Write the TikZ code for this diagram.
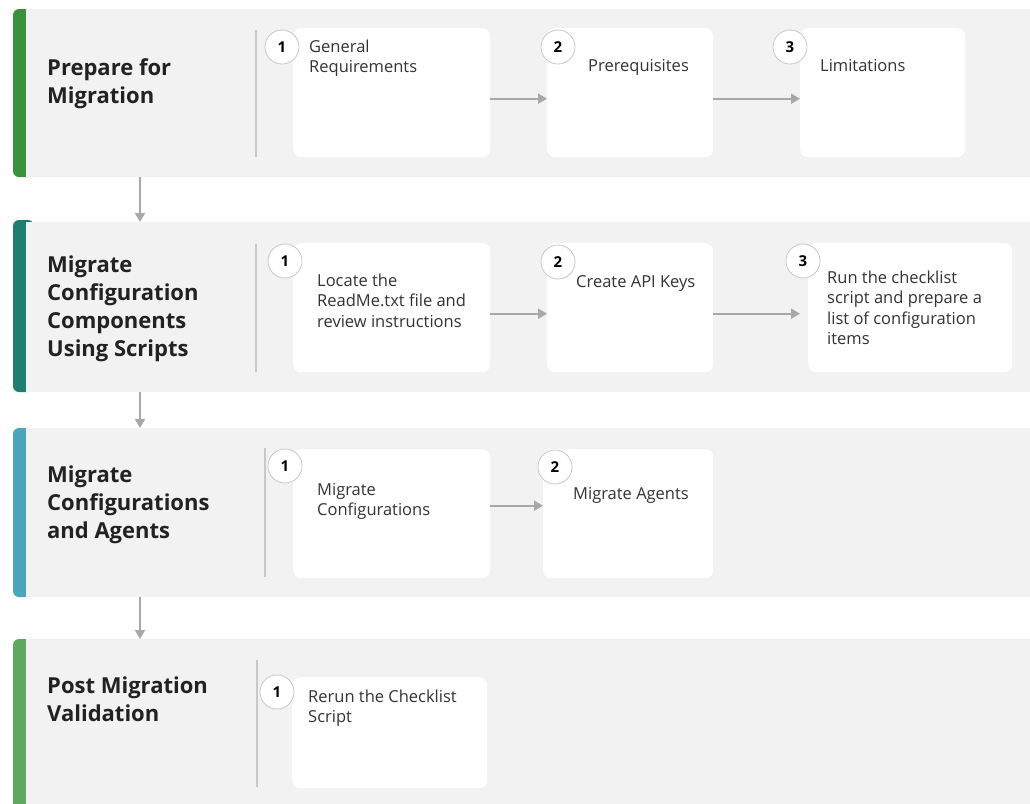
\documentclass[tikz,border=0pt]{standalone}
\usepackage{fontspec}
\setmainfont{Open Sans}
\usetikzlibrary{arrows.meta}
\definecolor{bandbg}{HTML}{F2F2F2}
\definecolor{barA}{HTML}{3C923C}
\definecolor{barB}{HTML}{1E7F70}
\definecolor{barC}{HTML}{4BA6BC}
\definecolor{barD}{HTML}{5FA85F}
\definecolor{arrgray}{HTML}{A8A8A8}
\definecolor{divgray}{HTML}{C8C8C8}
\definecolor{titletext}{HTML}{222222}
\definecolor{bodytext}{HTML}{333333}
\tikzset{
  band/.style={fill=bandbg, draw=none, anchor=north west, inner sep=0pt, minimum width=1020pt},
  card/.style={fill=white, draw=none, rounded corners=8pt, anchor=north west, inner sep=0pt},
  num/.style={circle, fill=white, draw=divgray, line width=0.8pt, minimum size=34pt, inner sep=0pt,
    font=\fontsize{15}{15}\selectfont\bfseries, text=black},
  ttl/.style={anchor=base west, align=left, inner sep=0pt, text=titletext,
    font=\fontsize{22}{28}\selectfont\bfseries},
  body/.style={anchor=base west, align=left, inner sep=0pt, text=bodytext,
    font=\fontsize{16.5}{20.5}\selectfont},
  arr/.style={draw=arrgray, line width=1.8pt, -{Triangle[length=9pt,width=10pt]}},
  divider/.style={draw=divgray, line width=1.2pt},
}
\begin{document}
\begin{tikzpicture}[x=1pt,y=-1pt]
\useasboundingbox (0,0) rectangle (1030,803);
\fill[white] (0,0) rectangle (1030,803);
% colour bars
\fill[barA, rounded corners=6pt] (13,9) rectangle (34,177);
\fill[barB, rounded corners=6pt] (13,220) rectangle (34,392);
\fill[barC, rounded corners=6pt] (13,428) rectangle (34,597);
\fill[barD, rounded corners=6pt] (13,639) rectangle (34,820);
% bands
\node[band, minimum height=168pt] (b1) at (26,9) {};
\node[band, minimum height=170pt] (b2) at (26,222) {};
\node[band, minimum height=169pt] (b3) at (26,428) {};
\node[band, minimum height=180pt] (b4) at (26,639) {};
% titles (anchor = baseline of last line)
\node[ttl] (t1) at (47,103) {Prepare for\\Migration};
\node[ttl] (t2) at (47,356) {Migrate\\Configuration\\Components\\Using Scripts};
\node[ttl] (t3) at (47,538) {Migrate\\Configurations\\and Agents};
\node[ttl] (t4) at (47,721) {Post Migration\\Validation};
% dividers
\draw[divider] (256,30) -- (256,157);
\draw[divider] (256,244) -- (256,372);
\draw[divider] (265,448) -- (265,577);
\draw[divider] (257,660) -- (257,787);
% band 1 cards
\node[card, minimum width=197pt, minimum height=129pt] (c11) at (293,28) {};
\node[card, minimum width=166pt, minimum height=129pt] (c12) at (547,28) {};
\node[card, minimum width=165pt, minimum height=129pt] (c13) at (800,28) {};
\node[num] (n11) at (282,47) {1};
\node[num] (n12) at (558,47) {2};
\node[num] (n13) at (790,47) {3};
\node[body] (l11) at (309,72.5) {General\\Requirements};
\node[body] (l12) at (588,71) {Prerequisites};
\node[body] (l13) at (820,71) {Limitations};
\draw[arr] ([yshift=-6pt]c11.east) -- ([yshift=-6pt]c12.west);
\draw[arr] ([yshift=-6pt]c12.east) -- ([yshift=-6pt]c13.west);
% band 2 cards
\node[card, minimum width=197pt, minimum height=129pt] (c21) at (293,243) {};
\node[card, minimum width=166pt, minimum height=129pt] (c22) at (547,243) {};
\node[card, minimum width=204pt, minimum height=129pt] (c23) at (808,243) {};
\node[num] (n21) at (285,261) {1};
\node[num] (n22) at (558,262) {2};
\node[num] (n23) at (803,261) {3};
\node[body] (l21) at (317,327) {Locate the\\ReadMe.txt file and\\review instructions};
\node[body] (l22) at (576,287) {Create API Keys};
\node[body] (l23) at (827,344.5) {Run the checklist\\script and prepare a\\list of configuration\\items};
\draw[arr] ([yshift=-6pt]c21.east) -- ([yshift=-6pt]c22.west);
\draw[arr, shorten >=8pt] ([yshift=-6pt]c22.east) -- ([yshift=-6pt]c23.west);
% band 3 cards
\node[card, minimum width=197pt, minimum height=129pt] (c31) at (293,449) {};
\node[card, minimum width=170pt, minimum height=129pt] (c32) at (543,449) {};
\node[num] (n31) at (285,466) {1};
\node[num] (n32) at (555,467) {2};
\node[body] (l31) at (317,515.5) {Migrate\\Configurations};
\node[body] (l32) at (573,499) {Migrate Agents};
\draw[arr] ([yshift=8pt]c31.east) -- ([yshift=8pt]c32.west);
% band 4 card
\node[card, minimum width=195pt, minimum height=111pt] (c41) at (292,677) {};
\node[num] (n41) at (277,692) {1};
\node[body] (l41) at (308,722.5) {Rerun the Checklist\\Script};
% arrows between bands
\coordinate (ax) at (140,0);
\draw[arr] (b1.south -| ax) -- (b2.north -| ax);
\draw[arr] (b2.south -| ax) -- (b3.north -| ax);
\draw[arr] (b3.south -| ax) -- (b4.north -| ax);
\end{tikzpicture}
\end{document}
